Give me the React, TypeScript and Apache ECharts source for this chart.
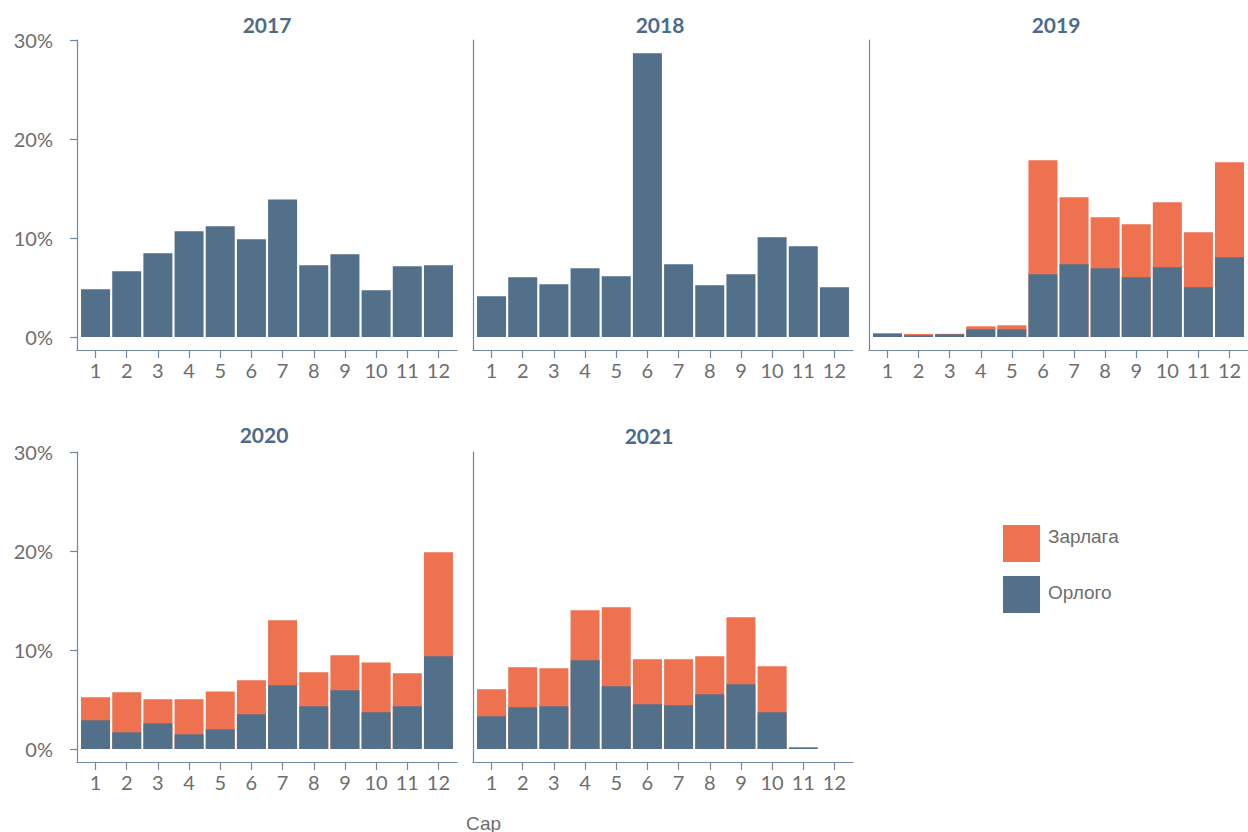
import React, { useEffect, useRef } from 'react';
import * as echarts from 'echarts';

// ---- Data (share of yearly total, %) ----
const years = ['2017', '2018', '2019', '2020', '2021'];
const months = [1, 2, 3, 4, 5, 6, 7, 8, 9, 10, 11, 12];
const yTicks = [0, 10, 20, 30];
const seriesNames = ['Зарлага', 'Орлого'];

const orlogo2017 = [4.82, 6.64, 8.45, 10.67, 11.18, 9.87, 13.9, 7.24, 8.35, 4.72, 7.14, 7.24];
const zarlaga2017 = [0, 0, 0, 0, 0, 0, 0, 0, 0, 0, 0, 0];

const orlogo2018 = [4.11, 6.03, 5.32, 6.94, 6.13, 28.65, 7.34, 5.22, 6.33, 10.07, 9.16, 5.02];
const zarlaga2018 = [0, 0, 0, 0, 0, 0, 0, 0, 0, 0, 0, 0];

const orlogo2019 = [0.37, 0.17, 0.27, 0.77, 0.77, 6.33, 7.34, 6.94, 6.03, 7.04, 5.02, 8.05];
const zarlaga2019 = [0, 0.13, 0.05, 0.31, 0.41, 11.52, 6.77, 5.15, 5.35, 6.56, 5.55, 9.59];

const orlogo2020 = [2.9, 1.68, 2.59, 1.48, 1.99, 3.5, 6.43, 4.31, 5.93, 3.7, 4.31, 9.36];
const zarlaga2020 = [2.32, 4.04, 2.43, 3.54, 3.83, 3.44, 6.57, 3.43, 3.53, 5.05, 3.33, 10.51];

const orlogo2021 = [3.3, 4.21, 4.31, 8.96, 6.33, 4.51, 4.41, 5.52, 6.53, 3.7, 0.17, null];
const zarlaga2021 = [2.73, 4.04, 3.84, 5.05, 7.98, 4.55, 4.65, 3.84, 6.77, 4.65, 0, null];

const orlogoByYear = [orlogo2017, orlogo2018, orlogo2019, orlogo2020, orlogo2021];
const zarlagaByYear = [zarlaga2017, zarlaga2018, zarlaga2019, zarlaga2020, zarlaga2021];

// ---- Layout / style ----
const layout = [
  { left: 77, top: 40, yLabels: true, titleX: 267, titleY: 24 },
  { left: 473, top: 40, yLabels: false, titleX: 660, titleY: 24 },
  { left: 869, top: 40, yLabels: false, titleX: 1056, titleY: 24 },
  { left: 77, top: 452, yLabels: true, titleX: 264, titleY: 434 },
  { left: 473, top: 452, yLabels: false, titleX: 649, titleY: 435 },
];
const GRID_W = 380;
const GRID_H = 310;
const X_MIN = 0.405;
const X_MAX = 12.595;
const Y_MIN = -1.313;
const Y_MAX = 30;

const AXIS_COLOR = '#7089a3';
const LABEL_GRAY = '#6e6e6e';
const TITLE_COLOR = '#4e6b88';
const BLUE = '#52708a';
const RED = '#ee7150';

export default function App() {
  const ref = useRef<HTMLDivElement>(null);

  useEffect(() => {
    if (!ref.current) return;
    const chart = echarts.init(ref.current, null, { renderer: 'svg' });

    const grid = layout.map((l) => ({ left: l.left, top: l.top, width: GRID_W, height: GRID_H }));

    const xAxis = layout.map((_, i) => ({
      type: 'value',
      gridIndex: i,
      min: X_MIN,
      max: X_MAX,
      splitLine: { show: false },
      axisLine: { show: true, onZero: false, lineStyle: { color: AXIS_COLOR, width: 1.2 } },
      axisTick: {
        show: true,
        length: 8,
        customValues: months,
        lineStyle: { color: AXIS_COLOR, width: 1.2 },
      },
      axisLabel: {
        customValues: months,
        color: LABEL_GRAY,
        fontSize: 20,
        fontFamily: 'Lato',
        margin: 10,
      },
    }));

    const yAxis = layout.map((l, i) => ({
      type: 'value',
      gridIndex: i,
      min: Y_MIN,
      max: Y_MAX,
      splitLine: { show: false },
      axisLine: { show: true, onZero: false, lineStyle: { color: AXIS_COLOR, width: 1.2 } },
      axisTick: {
        show: l.yLabels,
        length: 7,
        customValues: yTicks,
        lineStyle: { color: AXIS_COLOR, width: 1.2 },
      },
      axisLabel: {
        show: l.yLabels,
        customValues: yTicks,
        formatter: '{value}%',
        color: LABEL_GRAY,
        fontSize: 20,
        fontFamily: 'Lato',
        margin: 24,
        padding: [6, 0, 0, 0],
      },
    }));

    // Stacked look: Зарлага drawn as the full column (Орлого + Зарлага) underneath,
    // Орлого drawn over its lower part in the same slot.
    const series: any[] = [];
    years.forEach((y, i) => {
      series.push({
        type: 'bar',
        name: 'Зарлага',
        xAxisIndex: i,
        yAxisIndex: i,
        barWidth: 29,
        barGap: '-100%',
        z: 2,
        itemStyle: { color: RED },
        data: months.map((m, k) => {
          const z = zarlagaByYear[i][k];
          const o = orlogoByYear[i][k];
          return [m, z ? (o || 0) + z : null];
        }),
      });
      series.push({
        type: 'bar',
        name: 'Орлого',
        xAxisIndex: i,
        yAxisIndex: i,
        barWidth: 29,
        barGap: '-100%',
        z: 3,
        itemStyle: { color: BLUE },
        data: months.map((m, k) => [m, orlogoByYear[i][k]]),
      });
    });

    const legendCommon = {
      orient: 'vertical',
      left: 1003,
      padding: 0,
      itemWidth: 37,
      itemHeight: 37,
      icon: 'rect',
      selectedMode: false,
    };

    const graphic: any[] = layout.map((l, i) => ({
      type: 'text',
      x: l.titleX,
      y: l.titleY,
      style: {
        text: years[i],
        fill: TITLE_COLOR,
        fontSize: 21,
        fontWeight: 'bold',
        fontFamily: 'Lato',
        align: 'center',
        verticalAlign: 'middle',
      },
    }));
    graphic.push({
      type: 'text',
      x: 466,
      y: 823,
      style: {
        text: 'Сар',
        fill: LABEL_GRAY,
        fontSize: 19,
        fontFamily: 'Liberation Sans',
        align: 'left',
        verticalAlign: 'middle',
      },
    });

    chart.setOption({
      animation: false,
      grid,
      xAxis,
      yAxis,
      series,
      legend: [
        {
          ...legendCommon,
          top: 525,
          data: [seriesNames[0]],
          formatter: '{t|{name}}',
          textStyle: {
            color: LABEL_GRAY,
            rich: { t: { fontSize: 19, color: LABEL_GRAY, fontFamily: 'Liberation Sans', padding: [0, 0, 14, 3] } },
          },
        },
        {
          ...legendCommon,
          top: 576,
          data: [seriesNames[1]],
          formatter: '{t|{name}}',
          textStyle: {
            color: LABEL_GRAY,
            rich: { t: { fontSize: 19, color: LABEL_GRAY, fontFamily: 'Liberation Sans', padding: [0, 0, 5, 3] } },
          },
        },
      ],
      graphic,
    });

    return () => chart.dispose();
  }, []);

  return (
    <div
      ref={ref}
      style={{ position: 'fixed', left: 0, top: 0, width: 1248, height: 832, background: '#fff' }}
    />
  );
}
